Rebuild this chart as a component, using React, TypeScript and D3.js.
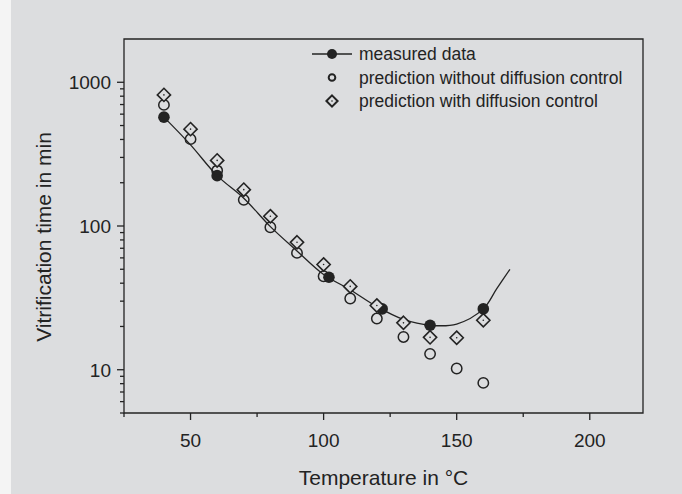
import React from "react";
import * as d3 from "d3";

const temps = [40, 50, 60, 70, 80, 90, 100, 110, 120, 130, 140, 150, 160];
const withoutDiffusion = [696, 402, 243, 152, 98, 65, 44.7, 31.3, 22.7, 16.9, 12.9, 10.2, 8.1];
const withDiffusion = [817, 472, 286, 179, 117, 77, 54, 38, 28, 21.2, 16.8, 16.7, 22.1];
const measuredT = [40, 60, 102, 122, 140, 160];
const measuredV = [572, 224, 44, 26.5, 20.4, 26.5];
const curveT = [40, 50, 60, 70, 80, 90, 100, 110, 120, 130, 140, 150, 160, 165, 170];
const curveV = [572, 367, 224, 156, 99, 67, 46, 36, 27.5, 22.4, 20.4, 20.8, 26.5, 36.5, 50];
const xMajor = [50, 100, 150, 200];
const xMinor = [25, 75, 125, 175];
const yMajor = [10, 100, 1000];
const yMinor = [5, 6, 7, 8, 9, 20, 30, 40, 50, 60, 70, 80, 90, 200, 300, 400, 500, 600, 700, 800, 900];
const legendLabels = ["measured data", "prediction without diffusion control", "prediction with diffusion control"];

const W = 682, H = 494;
const BG = "#dcdddf";
const INK = "#232323";
const FONT = "Liberation Sans, Arial, Helvetica, sans-serif";

export default function App() {
  const x = d3.scaleLinear().domain([25, 220]).range([124, 643]);
  const y = d3.scaleLog().domain([5, 2000]).range([413, 39]);
  const line = d3
    .line<number>()
    .x((_, i) => x(curveT[i]))
    .y((d) => y(d))
    .curve(d3.curveCatmullRom.alpha(0.5));

  const diamond = (cx: number, cy: number, r: number) =>
    `M${cx},${cy - r}L${cx + r},${cy}L${cx},${cy + r}L${cx - r},${cy}Z`;

  const [x0, x1] = x.range();
  const [yb, yt] = y.range();

  const legX = 332;
  const legY = [54, 77.5, 101];

  return (
    <svg width={W} height={H} style={{ position: "absolute", left: 0, top: 0 }} fontFamily={FONT}>
      <rect x={0} y={0} width={W} height={H} fill="#f4f4f4" />
      <rect x={11} y={0} width={W - 11} height={H} fill={BG} />

      {/* frame */}
      <path d={`M${x0},${yt}H${x1}V${yb}H${x0}Z`} fill="none" stroke={INK} strokeWidth={1.3} />

      {/* x ticks */}
      {xMajor.map((t) => (
        <g key={"xm" + t}>
          <line x1={x(t)} x2={x(t)} y1={yb} y2={yb + 7} stroke={INK} strokeWidth={1.3} />
          <text x={x(t)} y={yb + 34} textAnchor="middle" fontSize={19} fill={INK}>
            {t}
          </text>
        </g>
      ))}
      {xMinor.map((t) => (
        <line key={"xn" + t} x1={x(t)} x2={x(t)} y1={yb} y2={yb + 4} stroke={INK} strokeWidth={1.3} />
      ))}

      {/* y ticks */}
      {yMajor.map((t) => (
        <g key={"ym" + t}>
          <line x1={x0 - 7} x2={x0} y1={y(t)} y2={y(t)} stroke={INK} strokeWidth={1.3} />
          <text x={x0 - 13} y={y(t) + 7} textAnchor="end" fontSize={19} fill={INK}>
            {t}
          </text>
        </g>
      ))}
      {yMinor.map((t) => (
        <line key={"yn" + t} x1={x0 - 4} x2={x0} y1={y(t)} y2={y(t)} stroke={INK} strokeWidth={1.3} />
      ))}

      {/* axis titles */}
      <text x={(x0 + x1) / 2} y={485} textAnchor="middle" fontSize={21} fill={INK}>
        Temperature in °C
      </text>
      <text
        transform={`translate(51,237) rotate(-90)`}
        textAnchor="middle"
        fontSize={21}
        fill={INK}
      >
        Vitrification time in min
      </text>

      {/* fitted curve */}
      <path d={line(curveV) || ""} fill="none" stroke={INK} strokeWidth={1.3} />

      {/* measured */}
      {measuredT.map((t, i) => (
        <circle key={"m" + t} cx={x(t)} cy={y(measuredV[i])} r={5.8} fill={INK} />
      ))}
      {/* without diffusion */}
      {temps.map((t, i) => (
        <circle
          key={"o" + t}
          cx={x(t)}
          cy={y(withoutDiffusion[i])}
          r={5.2}
          fill="none"
          stroke={INK}
          strokeWidth={1.5}
        />
      ))}
      {/* with diffusion */}
      {temps.map((t, i) => (
        <g key={"d" + t}>
          <path d={diamond(x(t), y(withDiffusion[i]), 6.6)} fill={BG} stroke={INK} strokeWidth={1.6} />
          <circle cx={x(t)} cy={y(withDiffusion[i])} r={0.8} fill={INK} />
        </g>
      ))}

      {/* legend */}
      <line x1={legX - 20} x2={legX + 20} y1={legY[0]} y2={legY[0]} stroke={INK} strokeWidth={1.3} />
      <circle cx={legX} cy={legY[0]} r={5} fill={INK} />
      <circle cx={legX} cy={legY[1]} r={3.3} fill="none" stroke={INK} strokeWidth={2} />
      <path d={diamond(legX, legY[2], 5.6)} fill="none" stroke={INK} strokeWidth={2} />
      <circle cx={legX} cy={legY[2]} r={0.8} fill={INK} />
      {legendLabels.map((s, i) => (
        <text key={s} x={359} y={legY[i] + 6} fontSize={17.5} fill={INK}>
          {s}
        </text>
      ))}
    </svg>
  );
}
